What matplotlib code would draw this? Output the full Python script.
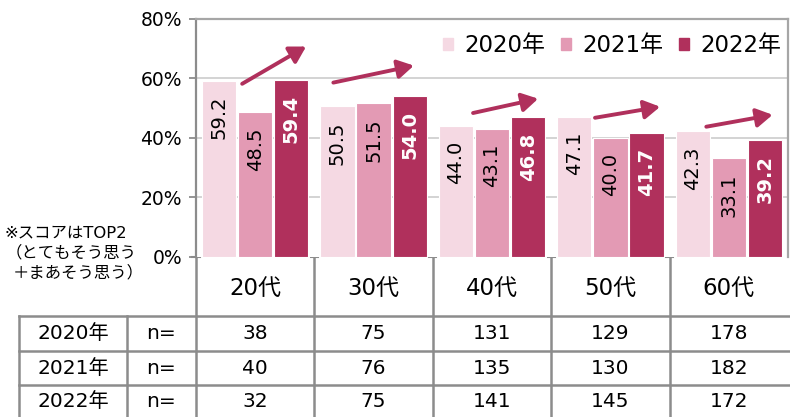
import matplotlib
matplotlib.use("Agg")
import matplotlib.pyplot as plt
import matplotlib.transforms as mtransforms
from matplotlib.patches import Patch

plt.rcParams['font.family'] = ['DejaVu Sans', 'Noto Sans CJK JP']

categories = ['20代', '30代', '40代', '50代', '60代']
series_names = ['2020年', '2021年', '2022年']
v2020 = [59.2, 50.5, 44.0, 47.1, 42.3]
v2021 = [48.5, 51.5, 43.1, 40.0, 33.1]
v2022 = [59.4, 54.0, 46.8, 41.7, 39.2]
n2020 = [38, 75, 131, 129, 178]
n2021 = [40, 76, 135, 130, 182]
n2022 = [32, 75, 141, 145, 172]
yticks = [0, 20, 40, 60, 80]
ytick_labels = ['0%', '20%', '40%', '60%', '80%']
note_lines = ['※スコアはTOP2', '（とてもそう思う', '＋まあそう思う）']
# trend arrows (start/end in data coords: category offset, value)
arrow_start = [(-0.11, 58.1), (-0.34, 58.5), (-0.16, 48.3), (-0.13, 46.7), (-0.19, 43.7)]
arrow_end = [(0.43, 70.6), (0.34, 64.2), (0.39, 53.1), (0.42, 50.4), (0.37, 47.7)]

colors = ['#f5d9e3', '#e39ab4', '#b0305c']
arrow_color = '#b0305c'
line_gray = '#8c8c8c'
frame_gray = '#a6a6a6'
grid_gray = '#cccccc'

W, H = 790, 417
fig = plt.figure(figsize=(W / 100, H / 100), dpi=100)
bg = fig.add_axes([0, 0, 1, 1])
bg.set_xlim(0, W)
bg.set_ylim(H, 0)
bg.axis('off')

ax_left, ax_right, ax_top, ax_bot = 196, 788, 18.5, 257
ax = fig.add_axes([ax_left / W, (H - ax_bot) / H, (ax_right - ax_left) / W, (ax_bot - ax_top) / H])
ax.set_xlim(-0.5, len(categories) - 0.5)
ax.set_ylim(0, 80)

series = [v2020, v2021, v2022]
offsets = [-0.305, 0.0, 0.305]
bw = 0.29
xs = list(range(len(categories)))
for s, (vals, off, col) in enumerate(zip(series, offsets, colors)):
    ax.bar([x + off for x in xs], vals, width=bw, color=col,
           edgecolor='white', linewidth=0.8, zorder=3)
    for x, v in zip(xs, vals):
        if s == 2:
            ax.annotate(f'{v:.1f}', xy=(x + off, v), xytext=(0, -11), textcoords='offset points',
                        rotation=90, ha='center', va='top', fontsize=14, color='white',
                        fontweight='bold', zorder=4)
        else:
            ax.annotate(f'{v:.1f}', xy=(x + off, v), xytext=(0, -11), textcoords='offset points',
                        rotation=90, ha='center', va='top', fontsize=14, color='black', zorder=4)

for x, (sx, sy), (ex, ey) in zip(xs, arrow_start, arrow_end):
    ax.annotate('', xy=(x + ex, ey), xytext=(x + sx, sy),
                arrowprops=dict(arrowstyle='-|>,head_length=0.6,head_width=0.35', lw=2.8,
                                color=arrow_color, shrinkA=0, shrinkB=0, mutation_scale=16),
                zorder=5, annotation_clip=False)

ax.set_yticks(yticks)
ax.set_yticklabels(ytick_labels, fontsize=13.5)
ax.set_xticks([])
ax.tick_params(axis='y', length=5, width=1.3, color=line_gray, pad=5)
for y in yticks[1:-1]:
    ax.axhline(y, color=grid_gray, lw=1.2, zorder=1)
for side in ['left', 'top', 'right']:
    ax.spines[side].set_color(frame_gray)
    ax.spines[side].set_linewidth(1.6)
ax.spines['left'].set_color(line_gray)
ax.spines['bottom'].set_visible(False)

ax.legend(handles=[Patch(color=c) for c in colors], labels=series_names,
          loc='center right', bbox_to_anchor=(1.012, 1 - (46 - ax_top) / (ax_bot - ax_top)),
          ncol=3, frameon=False, fontsize=16.5, handlelength=0.42, handleheight=0.42,
          handletextpad=0.5, columnspacing=0.7, borderaxespad=0.2)

# category row and table
blend = mtransforms.blended_transform_factory(ax.transData, bg.transData)
for b in [x - 0.5 for x in xs]:
    bg.plot([b, b], [ax_bot, H], transform=blend, color=line_gray, lw=1.8, clip_on=False)
    bg.plot([b - 0.03, b + 0.03], [ax_bot, ax_bot], transform=blend, color=line_gray, lw=1.5)
for x, c in zip(xs, categories):
    bg.text(x, 288, c, transform=blend, ha='center', va='center', fontsize=16.5)

row_lines = [316, 350.5, 385]
for y in row_lines:
    bg.plot([19, W], [y, y], color=line_gray, lw=1.8)
for xv in [19, 127]:
    bg.plot([xv, xv], [row_lines[0], H], color=line_gray, lw=1.8)
row_centers = [333.5, 368, 401.5]
for yc, name, ns in zip(row_centers, series_names, [n2020, n2021, n2022]):
    bg.text(73, yc, name, ha='center', va='center', fontsize=14.5)
    bg.text(161.5, yc, 'n=', ha='center', va='center', fontsize=14.5)
    for x, n in zip(xs, ns):
        bg.text(x, yc, str(n), transform=blend, ha='center', va='center', fontsize=14.5)

for (xl, yl), t in zip([(4, 233), (6, 253), (13, 273)], note_lines):
    bg.text(xl, yl, t, ha='left', va='center', fontsize=11.8,
            family=['DejaVu Sans', 'Noto Sans CJK JP'])

fig.savefig('out.png', dpi=100)
